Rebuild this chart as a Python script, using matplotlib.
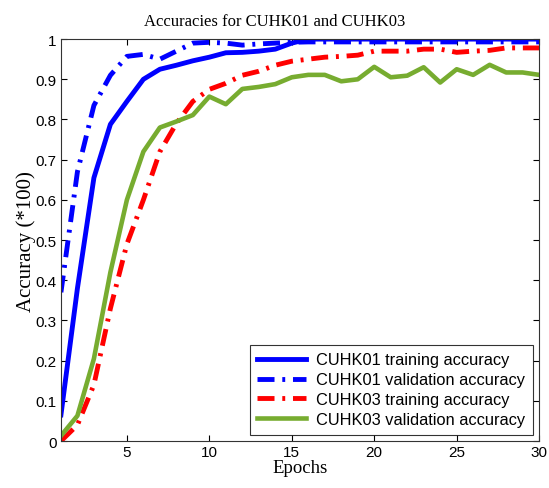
import matplotlib
matplotlib.use('Agg')
import matplotlib.pyplot as plt
import numpy as np

epochs = np.arange(1, 31)

# CUHK01
cuhk01_train = [0.065, 0.38, 0.655, 0.788, 0.845, 0.90, 0.925, 0.935, 0.946, 0.955,
                0.966, 0.967, 0.97, 0.975, 0.99, 1.0, 1.0, 1.0, 1.0, 1.0,
                1.0, 1.0, 1.0, 1.0, 1.0, 1.0, 1.0, 1.0, 1.0, 1.0]
cuhk01_val = [0.37, 0.67, 0.835, 0.91, 0.957, 0.962, 0.95, 0.97, 0.99, 0.992,
              0.99, 0.985, 0.988, 0.99, 0.992, 0.993, 0.993, 0.993, 0.993, 0.993,
              0.993, 0.993, 0.993, 0.993, 0.993, 0.993, 0.993, 0.993, 0.993, 0.993]

# CUHK03
cuhk03_train = [0.0, 0.04, 0.14, 0.33, 0.49, 0.60, 0.72, 0.79, 0.845, 0.875,
                0.89, 0.91, 0.92, 0.935, 0.945, 0.95, 0.955, 0.957, 0.96, 0.97,
                0.97, 0.97, 0.975, 0.975, 0.967, 0.97, 0.972, 0.978, 0.978, 0.978]
cuhk03_val = [0.013, 0.063, 0.205, 0.42, 0.6, 0.72, 0.78, 0.795, 0.811, 0.857,
              0.838, 0.876, 0.881, 0.888, 0.905, 0.911, 0.911, 0.895, 0.90, 0.931,
              0.905, 0.909, 0.93, 0.892, 0.925, 0.911, 0.936, 0.917, 0.917, 0.911]

labels = ['CUHK01 training accuracy', 'CUHK01 validation accuracy',
          'CUHK03 training accuracy', 'CUHK03 validation accuracy']

serif = ['Liberation Serif', 'DejaVu Serif']
sans = ['Liberation Sans', 'DejaVu Sans']

fig = plt.figure(figsize=(5.49, 4.89), dpi=100)
ax = fig.add_axes([0.111, 0.096, 0.871, 0.822])

dashdot = (0, (3.5, 1.6, 0.6, 1.6))
ax.plot(epochs, cuhk01_train, color='#0000ff', lw=3.5, label=labels[0])
ax.plot(epochs, cuhk01_val, color='#0000ff', lw=3.5, linestyle=dashdot, label=labels[1])
ax.plot(epochs, cuhk03_train, color='#ff0000', lw=3.5, linestyle=dashdot, label=labels[2])
ax.plot(epochs, cuhk03_val, color='#77ac30', lw=3.3, label=labels[3])

ax.set_xlim(1, 30)
ax.set_ylim(0, 1)
ax.set_xticks([5, 10, 15, 20, 25, 30])
ax.set_yticks(np.arange(0, 1.01, 0.1))
ax.set_yticklabels(['0', '0.1', '0.2', '0.3', '0.4', '0.5', '0.6', '0.7', '0.8', '0.9', '1'])
ax.tick_params(direction='in', top=True, right=True, length=4, width=0.8,
               labelsize=11, pad=3)
for t in ax.get_xticklabels() + ax.get_yticklabels():
    t.set_family(sans)
for s in ax.spines.values():
    s.set_linewidth(0.8)
    s.set_color('#333333')

# title sits at the middle of the figure, not of the axes
fig.text(0.5, 0.955, 'Accuracies for CUHK01 and CUHK03', family=serif, fontsize=12,
         ha='center', va='center')
ax.set_xlabel('Epochs', family=serif, fontsize=13.5, labelpad=0)
ax.set_ylabel('Accuracy (*100)', family=serif, fontsize=15, labelpad=0)

leg = ax.legend(loc='lower right', prop={'family': sans, 'size': 11.8}, frameon=True,
                fancybox=False, edgecolor='black', handlelength=3.0, borderaxespad=0.4,
                labelspacing=0.3, handletextpad=0.6, borderpad=0.45)
leg.get_frame().set_linewidth(0.8)

fig.savefig('out.png', dpi=100)
